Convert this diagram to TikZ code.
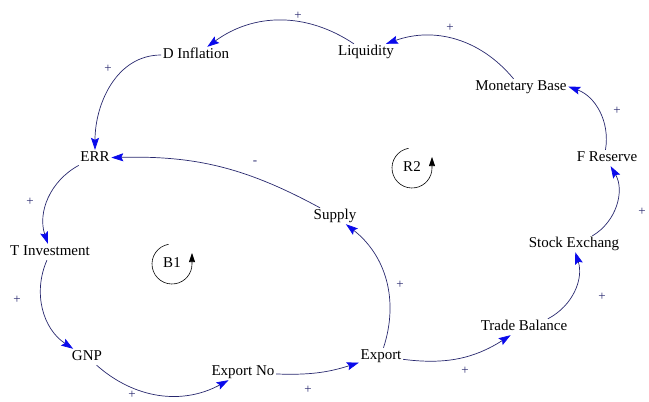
\documentclass[tikz,border=0pt]{standalone}
\usepackage{fontspec}
\setmainfont{Liberation Serif}
\usetikzlibrary{arrows.meta}
\definecolor{linkcol}{RGB}{40,40,110}
\definecolor{arrcol}{RGB}{10,10,235}

\begin{document}
\begin{tikzpicture}[x=1pt,y=-1pt,
		var/.style={inner sep=1.5pt,text height=10pt,text depth=3pt,font=\fontsize{15}{17}\selectfont},
		link/.style={draw=linkcol,line width=0.7pt,-{Stealth[length=12pt,width=8pt,inset=2pt,color=arrcol]}},
		pol/.style={text=linkcol,inner sep=0pt,font=\fontsize{13}{14}\selectfont},
		loopsym/.style={draw=black,line width=0.6pt,-{Triangle[length=9pt,width=6pt]}}]
		\useasboundingbox (0,0) rectangle (649,402);
		\node[var] (dinf) at (196,55) {D Inflation};
		\node[var] (liq) at (366,52) {Liquidity};
		\node[var] (mb) at (521,87) {Monetary Base};
		\node[var] (fr) at (607,158) {F Reserve};
		\node[var] (se) at (574,244) {Stock Exchang};
		\node[var] (tb) at (524,327) {Trade Balance};
		\node[var] (ex) at (381,356) {Export};
		\node[var] (exno) at (243,372) {Export No};
		\node[var] (gnp) at (87,357) {GNP};
		\node[var] (tinv) at (50,252) {T Investment};
		\node[var] (err) at (95,158) {ERR};
		\node[var] (sup) at (335,216) {Supply};

		\draw[link] (liq) to[bend right=35] (dinf);
		\draw[link] (mb) to[bend right=35] (liq);
		\draw[link] (fr) to[bend right=40] (mb);
		\draw[link] (se) to[bend right=45] (fr);
		\draw[link] (tb) to[bend right=40] (se);
		\draw[link] (ex) to[bend right=20] (tb);
		\draw[link] (exno) to[bend right=10] (ex);
		\draw[link] (gnp) to[bend right=35] (exno);
		\draw[link] (tinv) to[bend right=40] (gnp);
		\draw[link] (err) to[bend right=40] (tinv);
		\draw[link] (dinf.west) to[out=180,in=90] (err.north);
		\draw[link] (sup) to[bend right=15] (err);
		\draw[link] (ex) to[bend right=35] (sup);

		\node[pol] (s1) at (298,16) {+};
		\node[pol] (s2) at (450,28) {+};
		\node[pol] (s3) at (617,111) {+};
		\node[pol] (s4) at (642,212) {+};
		\node[pol] (s5) at (602,297) {+};
		\node[pol] (s6) at (465,371) {+};
		\node[pol] (s7) at (308,390) {+};
		\node[pol] (s8) at (132,395) {+};
		\node[pol] (s9) at (17,300) {+};
		\node[pol] (s10) at (30,202) {+};
		\node[pol] (s11) at (108,69) {+};
		\node[pol] (s12) at (400,285) {+};
		\node[pol] (s13) at (255,163) {-};

		\node[var] (b1) at (172,264) {B1};
		\draw[loopsym] (b1.center) ++(100:20pt) arc[start angle=100,end angle=360,radius=20pt] -- ++(0pt,11pt);
		\node[var] (r2) at (412,168) {R2};
		\draw[loopsym] (r2.center) ++(100:20pt) arc[start angle=100,end angle=360,radius=20pt] -- ++(0pt,11pt);
\end{tikzpicture}
\end{document}
